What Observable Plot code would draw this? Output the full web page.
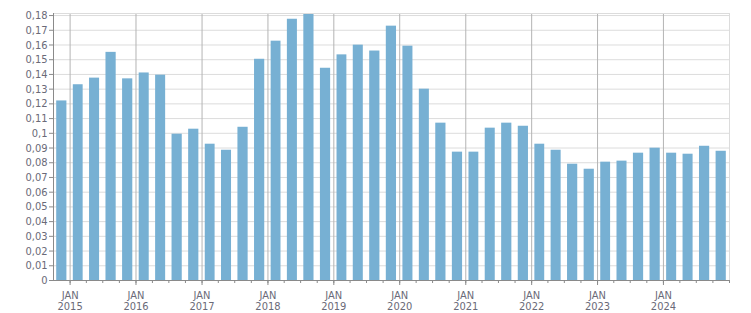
<!DOCTYPE html>
<html><head><meta charset="utf-8">
<script src="https://cdn.jsdelivr.net/npm/d3@7"></script>
<script src="https://cdn.jsdelivr.net/npm/@observablehq/plot@0.6"></script>
<style>body{margin:0;background:#fff}</style>
</head><body><div id="chart"></div>
<script>
// Quarter start months (each bar spans one quarter)
const quarters = [
  "2014-10",
  "2015-01","2015-04","2015-07","2015-10",
  "2016-01","2016-04","2016-07","2016-10",
  "2017-01","2017-04","2017-07","2017-10",
  "2018-01","2018-04","2018-07","2018-10",
  "2019-01","2019-04","2019-07","2019-10",
  "2020-01","2020-04","2020-07","2020-10",
  "2021-01","2021-04","2021-07","2021-10",
  "2022-01","2022-04","2022-07","2022-10",
  "2023-01","2023-04","2023-07","2023-10",
  "2024-01","2024-04","2024-07","2024-10"
];
const values = [
  0.122,
  0.133, 0.1375, 0.155, 0.137,
  0.141, 0.1395, 0.0994, 0.1028,
  0.0926, 0.0885, 0.1041, 0.1503,
  0.1626, 0.1775, 0.181, 0.1442,
  0.1533, 0.1599, 0.1559, 0.1728,
  0.1592, 0.130, 0.1069, 0.0872,
  0.0872, 0.1035, 0.1069, 0.1048,
  0.0926, 0.0885, 0.079, 0.0756,
  0.0804, 0.0811, 0.0865, 0.0899,
  0.0865, 0.0858, 0.0912, 0.0878
];
const yearTicks = ["2015","2016","2017","2018","2019","2020","2021","2022","2023","2024"];
const yTickLabels = ["0","0,01","0,02","0,03","0,04","0,05","0,06","0,07","0,08","0,09","0,1","0,11","0,12","0,13","0,14","0,15","0,16","0,17","0,18"];
const xStart = "2014-10";
const xEnd = "2025-01";

const parse = s => new Date(s + "-01T00:00:00Z");
const data = quarters.map((q, i) => {
  const d = parse(q);
  return {start: d, end: d3.utcMonth.offset(d, 3), value: values[i]};
});
const yTicks = yTickLabels.map(s => +s.replace(",", "."));
const yFmt = d => yTickLabels[yTicks.findIndex(t => Math.abs(t - d) < 1e-9)];
const yearDates = yearTicks.map(y => parse(y + "-01"));
const quarterDates = quarters.slice(1).map(parse).concat([parse(xEnd)]);

const chart = Plot.plot({
  width: 751,
  height: 313,
  marginLeft: 53,
  marginRight: 22,
  marginTop: 13,
  marginBottom: 33,
  style: {fontFamily: "'DejaVu Sans Condensed', 'DejaVu Sans', sans-serif", fontSize: "11px", background: "#fff"},
  x: {type: "utc", domain: [parse(xStart), parse(xEnd)]},
  y: {domain: [0, 0.1814]},
  marks: [
    Plot.gridY(yTicks, {stroke: "#dcdcdc", strokeOpacity: 1}),
    Plot.ruleX(yearDates, {stroke: "#b4b4b4"}),
    Plot.rectY(data, {x1: "start", x2: "end", y: "value", fill: "#77b0d3", insetLeft: 3.2, insetRight: 3.2}),
    Plot.frame({stroke: "#dcdcdc"}),
    Plot.ruleY([0], {stroke: "#8a8a8a"}),
    Plot.ruleX([parse(xStart)], {stroke: "#8a8a8a"}),
    Plot.axisY(yTicks, {tickSize: 4, tickPadding: 2, tickFormat: yFmt, stroke: "#8a8a8a", fill: "#6a6a78", label: null}),
    Plot.axisX(quarterDates, {tickSize: 3, tickFormat: null, text: null, stroke: "#8a8a8a", label: null}),
    Plot.axisX(yearDates, {tickSize: 5, tickPadding: 5, tickFormat: d => "JAN\n" + d.getUTCFullYear(), lineHeight: 1.05, stroke: "#8a8a8a", fill: "#6a6a78", label: null})
  ]
});
document.getElementById("chart").appendChild(chart);
</script>
</body></html>
